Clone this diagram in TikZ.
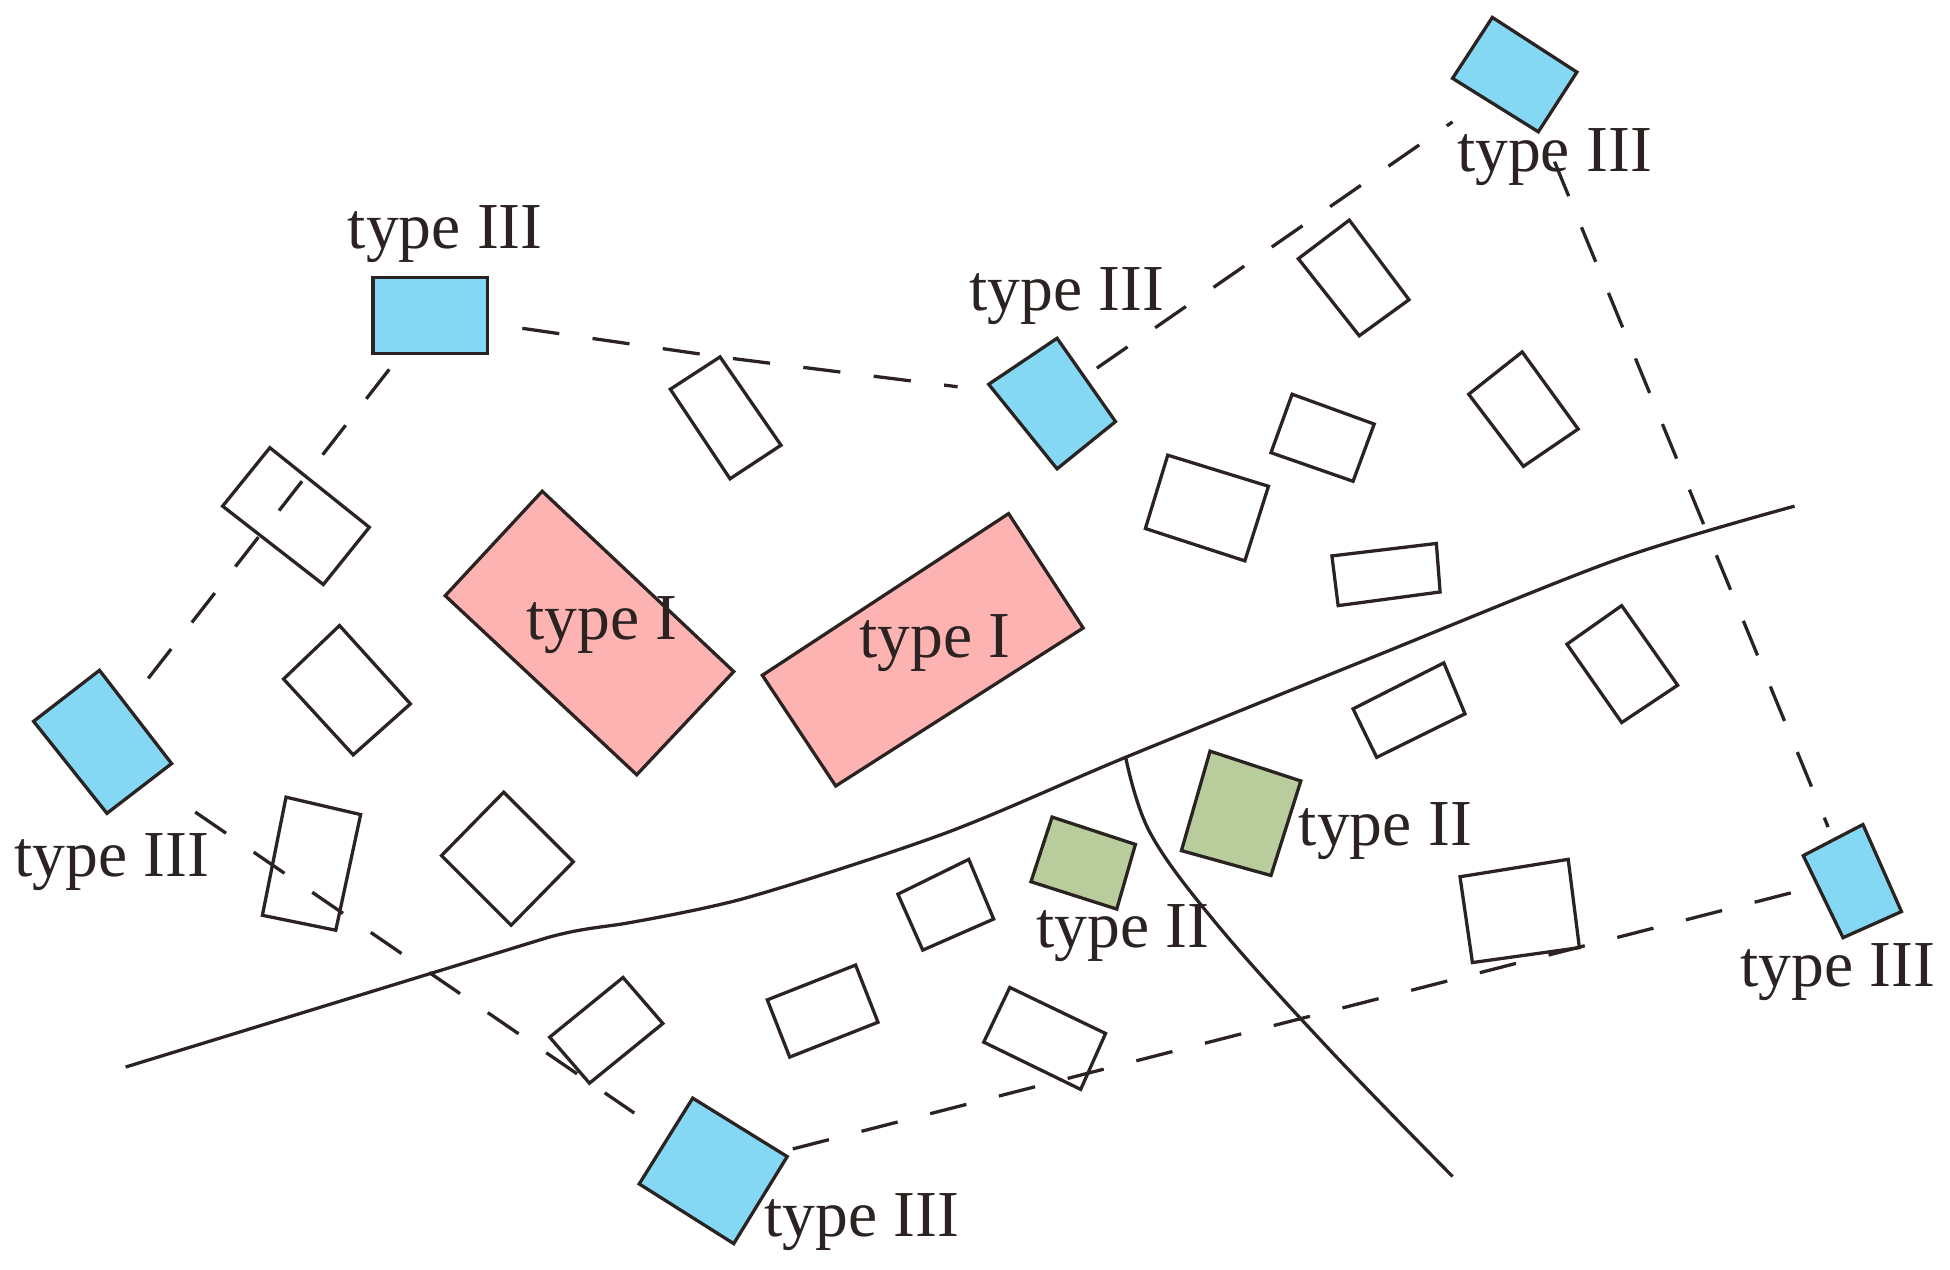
\documentclass[tikz,border=0pt]{standalone}
\usepackage{fontspec}
\setmainfont{Liberation Serif}
\begin{document}
\begin{tikzpicture}[x=0.01cm,y=-0.01cm,
  ink/.style={draw=ln,line width=0.75pt,line join=miter},
  blue/.style={ink,fill=bl},pink/.style={ink,fill=pk},green/.style={ink,fill=gr},
  white/.style={ink,fill=white},
  dsh/.style={draw=ln,line width=0.75pt,dash pattern=on 0.3cm off 0.27cm},
  lbl/.style={text=ln,font=\fontsize{15}{17}\selectfont,inner sep=0pt}]
\definecolor{ln}{HTML}{2B2321}
\definecolor{bl}{HTML}{84D8F4}
\definecolor{pk}{HTML}{FDB3B1}
\definecolor{gr}{HTML}{B8CC9C}
\useasboundingbox (0,0) rectangle (1568,1021);
% solid lines
\draw[ink] (101,858) -- (440,754) .. controls (465,747) and (480,746) .. (500,743)
  plot[smooth,tension=0.5] coordinates{(500,743) (600,722) (760,670) (905,609) (1100,530) (1300,450) (1443,407)};
\draw[ink] plot[smooth,tension=0.6] coordinates{(905,608) (925,670) (980,745) (1070,845) (1168,946)};
% white
\foreach \p in {
 {(539,313) -- (579,287) -- (628,358) -- (587,385)},
 {(179,407) -- (217,360) -- (297,424) -- (260,470)},
 {(228,546) -- (273,503) -- (330,566) -- (284,607)},
 {(211,736) -- (230,641) -- (290,655) -- (270,748)},
 {(355,688) -- (405,637) -- (461,693) -- (411,744)},
 {(1044,208) -- (1085,177) -- (1133,241) -- (1093,270)},
 {(1022,364) -- (1039,317) -- (1105,341) -- (1088,387)},
 {(921,425) -- (939,366) -- (1020,391) -- (1001,451)},
 {(1181,317) -- (1224,283) -- (1269,345) -- (1225,375)},
 {(1071,447) -- (1155,437) -- (1158,476) -- (1076,487)},
 {(1260,518) -- (1304,487) -- (1349,551) -- (1304,581)},
 {(1088,570) -- (1161,533) -- (1178,574) -- (1107,609)},
 {(722,719) -- (779,691) -- (799,739) -- (742,764)},
 {(617,804) -- (688,776) -- (706,822) -- (635,850)},
 {(791,838) -- (812,794) -- (889,831) -- (869,876)},
 {(442,834) -- (501,786) -- (533,823) -- (474,871)},
 {(1174,705) -- (1261,691) -- (1270,762) -- (1184,774)}}
 \draw[white] \p -- cycle;
% dashed
\draw[dsh] (313,297) -- (104,565);
\draw[dsh] (157,653) -- (510,895);
\draw[dsh] (420,264) -- (579,287) -- (770,311);
\draw[dsh] (882,296) -- (1168,98);
\draw[dsh] (1250,130) -- (1470,665);
\draw[dsh] (1440,718) -- (633,925);
% blue
\draw[blue] (1200,14) -- (1268,58) -- (1237,106) -- (1168,63) -- cycle;
\draw[blue] (300,223) rectangle (392,284);
\draw[blue] (795,309) -- (850,272) -- (897,339) -- (850,377) -- cycle;
\draw[blue] (27,580) -- (80,539) -- (138,614) -- (86,654) -- cycle;
\draw[blue] (1450,688) -- (1498,663) -- (1529,733) -- (1482,754) -- cycle;
\draw[blue] (514,952) -- (557,883) -- (633,930) -- (590,1000) -- cycle;
% pink
\draw[pink] (358,479) -- (436,395) -- (590,540) -- (512,623) -- cycle;
\draw[pink] (613,543) -- (811,413) -- (871,505) -- (672,632) -- cycle;
% green
\draw[green] (829,709) -- (846,657) -- (913,679) -- (898,731) -- cycle;
\draw[green] (950,684) -- (973,604) -- (1046,628) -- (1022,704) -- cycle;
% labels
\node[lbl] (l1) at (1250,126) {type III};
\node[lbl] (l2) at (358,188) {type III};
\node[lbl] (l3) at (858,238) {type III};
\node[lbl] (l4) at (90,693) {type III};
\node[lbl] (l5) at (1478,782) {type III};
\node[lbl] (l6) at (693,983) {type III};
\node[lbl] (l7) at (1114,668) {type II};
\node[lbl] (l8) at (903,750) {type II};
\node[lbl] (l9) at (484,503) {type I};
\node[lbl] (l10) at (752,517) {type I};
\end{tikzpicture}
\end{document}
